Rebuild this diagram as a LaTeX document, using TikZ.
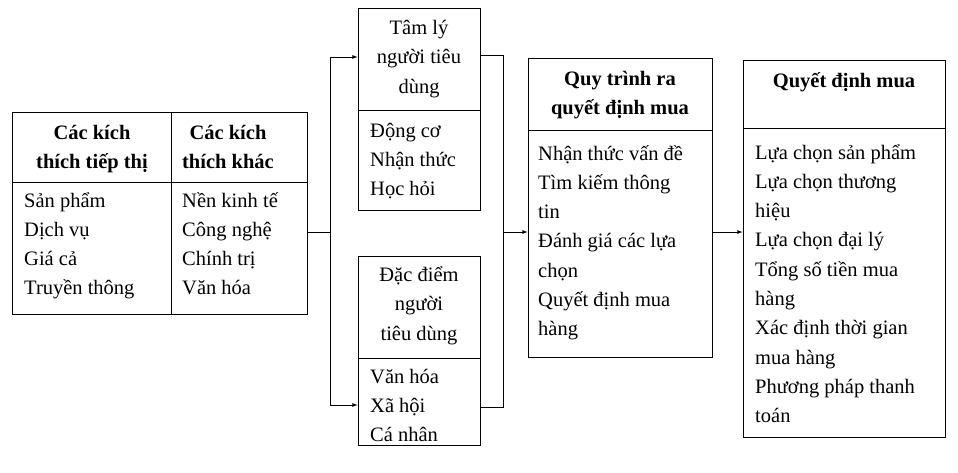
\documentclass[tikz,border=0pt]{standalone}
\usepackage{fontspec}
\setmainfont{Liberation Serif}
\usetikzlibrary{positioning}
\tikzset{box/.style={draw,thick,inner sep=0pt}}
\tikzset{item/.style={anchor=base west,inner sep=0pt,font=\fontsize{20.5}{24}\selectfont}}
\tikzset{head/.style={anchor=base,inner sep=0pt,font=\fontsize{20.5}{24}\selectfont\bfseries}}
\tikzset{plain/.style={anchor=base,inner sep=0pt,font=\fontsize{20.5}{24}\selectfont}}
\tikzset{link/.style={thick,-latex}}
\newcommand{\itemlist}[4]{%
  \foreach \t [count=\i from 0] in {#4}
    \node[item] (#1-\i) at (#2,#3+7+29.3*\i) {\t};}
\begin{document}
\begin{tikzpicture}[x=1pt,y=-1pt]
  \useasboundingbox (0,0) rectangle (958,472);
  % boxes
  \draw[thick] (12,112) rectangle (307,314);
  \draw[thick] (171,112) -- (171,314);
  \draw[thick] (12,182) -- (307,182);
  \node[box,minimum width=122,minimum height=202] (tam) at (419,109) {};
  \draw[thick] (358,110) -- (480,110);
  \node[box,minimum width=122,minimum height=189] (dac) at (419,350.5) {};
  \draw[thick] (358,358) -- (480,358);
  \node[box,minimum width=184,minimum height=299] (quy) at (620,207.5) {};
  \draw[thick] (528,130) -- (712,130);
  \node[box,minimum width=202,minimum height=377] (qd) at (844,248.5) {};
  \draw[thick] (743,128) -- (945,128);
  \coordinate (kt) at (307,232);
  % headers
  \node[head] (h1a) at (92,139) {Các kích};
  \node[head] (h1b) at (92,168) {thích tiếp thị};
  \node[head] (h2a) at (228,139) {Các kích};
  \node[head] (h2b) at (228,168) {thích khác};
  \node[plain] (h3a) at (419,34) {Tâm lý};
  \node[plain] (h3b) at (419,63) {người tiêu};
  \node[plain] (h3c) at (419,93) {dùng};
  \node[plain] (h4a) at (419,281) {Đặc điểm};
  \node[plain] (h4b) at (419,310) {người};
  \node[plain] (h4c) at (419,340) {tiêu dùng};
  \node[head] (h5a) at (620,85) {Quy trình ra};
  \node[head] (h5b) at (620,114) {quyết định mua};
  \node[head] (h6a) at (844,87) {Quyết định mua};
  % items
  \itemlist{a}{24}{200}{Sản phẩm,Dịch vụ,Giá cả,Truyền thông}
  \itemlist{b}{182}{200}{Nền kinh tế,Công nghệ,Chính trị,Văn hóa}
  \itemlist{c}{370}{130}{Động cơ,Nhận thức,Học hỏi}
  \itemlist{d}{370}{376}{Văn hóa,Xã hội,Cá nhân}
  \itemlist{e}{538}{153}{Nhận thức vấn đề,Tìm kiếm thông,tin,Đánh giá các lựa,chọn,Quyết định mua,hàng}
  \itemlist{f}{755}{152}{Lựa chọn sản phẩm,Lựa chọn thương,hiệu,Lựa chọn đại lý,Tổng số tiền mua,hàng,Xác định thời gian,mua hàng,Phương pháp thanh,toán}
  % connectors
  \coordinate (s1) at (330,232);
  \draw[thick] (kt) -- (s1);
  \draw[link] (s1) |- (tam.west |- 0,57);
  \draw[link] (s1) |- (dac.west |- 0,405);
  \coordinate (s2) at (503,232);
  \draw[thick] (tam.east |- 0,55) -| (s2);
  \draw[thick] (dac.east |- 0,407) -| (s2);
  \draw[link] (s2) -- (quy.west |- s2);
  \draw[link] (quy.east |- s2) -- (qd.west |- s2);
\end{tikzpicture}
\end{document}
